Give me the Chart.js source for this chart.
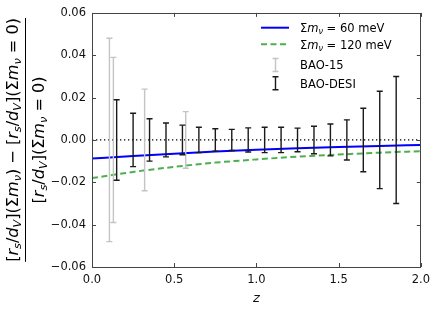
<!DOCTYPE html>
<html lang="en">
<head>
<meta charset="UTF-8">
<script src="https://cdn.jsdelivr.net/npm/chart.js"></script>
<style>
    body, html { margin: 0; padding: 0; background: #fff; }
    #wrap { width: 436px; height: 311px; }
</style>
</head>
<body>
<div id="wrap"><canvas id="c" width="436" height="311"></canvas></div>
<script>
// relative shift of r_s/d_V vs redshift for two neutrino masses
const curveZ  = [0, 0.25, 0.5, 0.75, 1.0, 1.25, 1.5, 1.75, 2.0];
const nu60    = [-0.0088, -0.0076, -0.0065, -0.0055, -0.0046, -0.0039, -0.0033, -0.0028, -0.0024];
const nu120   = [-0.0180, -0.0151, -0.0127, -0.0107, -0.0092, -0.0079, -0.0069, -0.0060, -0.0053];

// BAO error bars (centred on zero)
const bao15Z   = [0.106, 0.13, 0.32, 0.57];
const bao15Err = [0.048, 0.039, 0.024, 0.0134];
const desiZ    = [0.15, 0.25, 0.35, 0.45, 0.55, 0.65, 0.75, 0.85, 0.95, 1.05, 1.15, 1.25, 1.35, 1.45, 1.55, 1.65, 1.75, 1.85];
const desiErr  = [0.019, 0.0126, 0.010, 0.008, 0.007, 0.006, 0.0053, 0.005, 0.0057, 0.006, 0.006, 0.0056, 0.0065, 0.0075, 0.0095, 0.015, 0.023, 0.030];

const labels   = ['$Σm_ν$ = 60 meV', '$Σm_ν$ = 120 meV', 'BAO-15', 'BAO-DESI'];
const colors   = ['#0000ff', '#4caf50', '#c4c4c4', '#1a1a1a'];
const yTitleNum = '$[r_s/d_V](Σm_ν) − [r_s/d_V](Σm_ν = 0)$';
const yTitleDen = '$[r_s/d_V](Σm_ν = 0)$';

// tiny markup: $..$ = math, _x = subscript
function parseRich(s) {
    const segs = [];
    let math = false;
    for (let i = 0; i < s.length; i++) {
        let ch = s[i];
        if (ch === '$') { math = !math; continue; }
        let sub = false;
        if (math && ch === '_') { sub = true; ch = s[++i]; }
        const italic = math && /[a-zA-Zα-ω]/.test(ch);
        segs.push({ t: ch, italic, sub });
    }
    return segs;
}
function segFont(sg, size) {
    const sz = sg.sub ? size * 0.7 : size;
    return (sg.italic ? 'italic ' : '') + sz + 'px "DejaVu Sans"';
}
function richWidth(ctx, segs, size) {
    let w = 0;
    segs.forEach(sg => { ctx.font = segFont(sg, size); w += ctx.measureText(sg.t).width; });
    return w;
}
function drawRich(ctx, segs, x, y, size) {
    segs.forEach(sg => {
        ctx.font = segFont(sg, size);
        ctx.fillText(sg.t, x, y + (sg.sub ? size * 0.2 : 0));
        x += ctx.measureText(sg.t).width;
    });
}

function errorSets(zs, errs, color, order) {
    return zs.map((z, i) => ({
        type: 'line',
        label: 'err',
        data: [{ x: z, y: -errs[i] }, { x: z, y: errs[i] }],
        borderColor: color,
        borderWidth: 1.4,
        pointStyle: 'line',
        pointRadius: 3,
        pointBorderWidth: 1.4,
        pointBorderColor: color,
        order: order
    }));
}

const decor = {
    id: 'decor',
    afterDraw(chart) {
        const { ctx, chartArea: { left, right, top, bottom }, scales: { x, y } } = chart;
        ctx.save();
        ctx.strokeStyle = '#444';
        ctx.lineWidth = 1;
        ctx.beginPath();
        x.ticks.forEach(t => {
            const px = Math.round(x.getPixelForValue(t.value)) + 0.5;
            ctx.moveTo(px, bottom); ctx.lineTo(px, bottom - 4);
            ctx.moveTo(px, top); ctx.lineTo(px, top + 4);
        });
        y.ticks.forEach(t => {
            const py = Math.round(y.getPixelForValue(t.value)) + 0.5;
            ctx.moveTo(left, py); ctx.lineTo(left + 4, py);
            ctx.moveTo(right, py); ctx.lineTo(right - 4, py);
        });
        ctx.stroke();
        ctx.strokeRect(Math.round(left) + 0.5, Math.round(top) + 0.5, Math.round(right - left) - 1, Math.round(bottom - top));

        // legend
        const rows = [27.7, 44.3, 65, 83.3];
        ctx.fillStyle = '#000';
        rows.forEach((ry, i) => {
            ctx.strokeStyle = colors[i];
            ctx.beginPath();
            if (i < 2) {
                ctx.lineWidth = 2;
                ctx.setLineDash(i === 1 ? [6, 3.5] : []);
                ctx.moveTo(261, ry); ctx.lineTo(289, ry);
            } else {
                ctx.lineWidth = 1.4;
                ctx.setLineDash([]);
                ctx.moveTo(275.5, ry - 6.5); ctx.lineTo(275.5, ry + 6.5);
                ctx.moveTo(272.5, ry - 6.5); ctx.lineTo(278.5, ry - 6.5);
                ctx.moveTo(272.5, ry + 6.5); ctx.lineTo(278.5, ry + 6.5);
            }
            ctx.stroke();
            ctx.setLineDash([]);
            ctx.textBaseline = 'alphabetic';
            drawRich(ctx, parseRich(labels[i]), 300, ry + 4.3, 11.5);
        });

        // y title as a fraction
        const num = parseRich(yTitleNum), den = parseRich(yTitleDen);
        const fs = 16 * 244 / richWidth(ctx, num, 16);
        const cy = (top + bottom) / 2;
        ctx.translate(25.5, cy);
        ctx.rotate(-Math.PI / 2);
        ctx.textBaseline = 'alphabetic';
        const wn = richWidth(ctx, num, fs), wd = richWidth(ctx, den, fs);
        drawRich(ctx, num, -wn / 2, -8, fs);
        drawRich(ctx, den, -wd / 2, 18.5, fs);
        ctx.strokeStyle = '#000';
        ctx.lineWidth = 1;
        ctx.beginPath();
        ctx.moveTo(-wn / 2, 0); ctx.lineTo(wn / 2, 0);
        ctx.stroke();
        ctx.restore();
    }
};

const fmtY = v => v.toFixed(2).replace('-', '−').replace('−0.00', '0.00');

new Chart(document.getElementById('c'), {
    type: 'line',
    data: {
        datasets: [
            {
                label: labels[0],
                data: curveZ.map((z, i) => ({ x: z, y: nu60[i] })),
                borderColor: colors[0], borderWidth: 2, pointRadius: 0,
                cubicInterpolationMode: 'monotone', order: 2
            },
            {
                label: labels[1],
                data: curveZ.map((z, i) => ({ x: z, y: nu120[i] })),
                borderColor: colors[1], borderWidth: 2, borderDash: [6, 3.5], pointRadius: 0,
                cubicInterpolationMode: 'monotone', order: 2
            },
            {
                label: 'zero',
                data: [{ x: 0, y: 0 }, { x: 2, y: 0 }],
                borderColor: '#000', borderWidth: 1.3, borderDash: [1.3, 2.7], pointRadius: 0, order: 3
            },
            ...errorSets(bao15Z, bao15Err, colors[2], 1),
            ...errorSets(desiZ, desiErr, colors[3], 0)
        ]
    },
    options: {
        responsive: false,
        devicePixelRatio: 1,
        animation: false,
        layout: { padding: { left: 0, right: 14, top: 12, bottom: 0 } },
        plugins: { legend: { display: false }, tooltip: { enabled: false } },
        scales: {
            x: {
                type: 'linear', min: 0, max: 2,
                grid: { display: false, drawTicks: false }, border: { display: false },
                ticks: { stepSize: 0.5, callback: v => v.toFixed(1), color: '#111', padding: 6, maxRotation: 0,
                         font: { family: 'DejaVu Sans', size: 11.5 } },
                title: { display: true, text: 'z', color: '#111', padding: { top: 2, bottom: 5 },
                         font: { family: 'DejaVu Sans', size: 13, style: 'italic' } },
                afterFit: s => { s.height = 44; }
            },
            y: {
                min: -0.06, max: 0.06,
                grid: { display: false, drawTicks: false }, border: { display: false },
                ticks: { stepSize: 0.02, callback: fmtY, color: '#111', padding: 6,
                         font: { family: 'DejaVu Sans', size: 11.5 } },
                afterFit: s => { s.width = 92; }
            }
        }
    },
    plugins: [decor]
});
</script>
</body>
</html>
